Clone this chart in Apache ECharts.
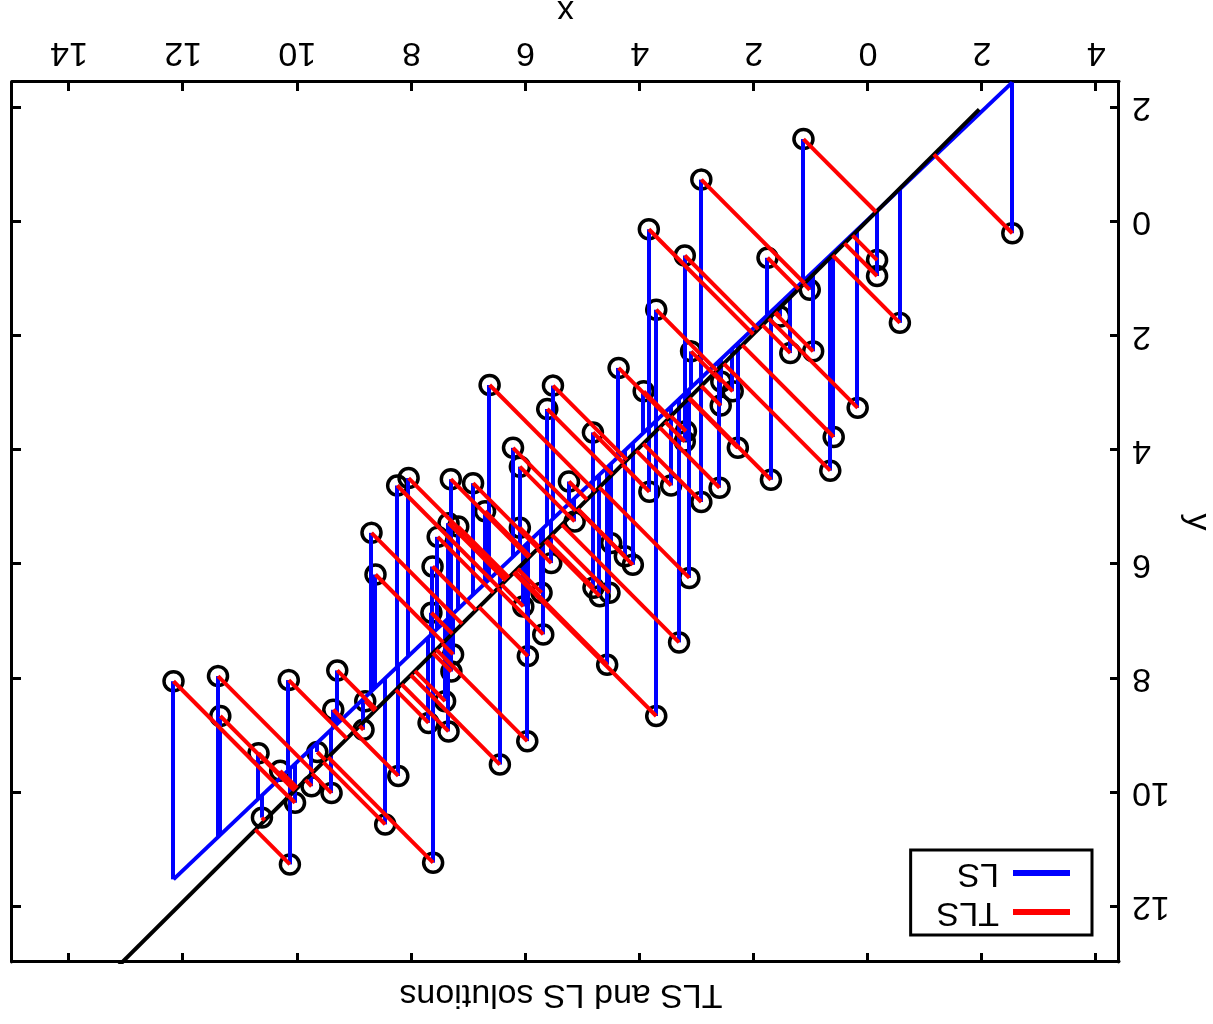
<!DOCTYPE html>
<html>
<head>
<meta charset="utf-8">
<title>TLS and LS solutions</title>
<script src="https://cdn.jsdelivr.net/npm/echarts@6/dist/echarts.min.js"></script>
<style>
  html, body { margin: 0; padding: 0; background: #ffffff; overflow: hidden; }
  #chart { width: 1213px; height: 1024px; transform: rotate(180deg); }
</style>
</head>
<body>
<div id="chart"></div>
<script>
// measured points (x, y)
var xs = [
  -2.53, 1.13, 2.92, 3.84, 3.21, 1.76, -0.16, -0.16, 1.02, 3.71,
  -0.56, 1.54, 6.63, 5.52, 5.62, 4.37, 3.93, 3.10, 1.36, 0.96,
  4.82, 6.22, 6.10, 2.57, 2.37, 2.58, 0.18, 0.60, 0.66, 3.19,
  3.21, 2.28, 1.70, 2.60, 2.92, 3.45, 3.83, 5.24, 6.92, 8.25,
  8.05, 7.31, 6.71, 8.70, 8.63, 7.35, 7.18, 7.54, 7.63, 6.10,
  5.14, 5.55, 4.50, 4.26, 4.12, 3.13, 4.70, 4.53, 5.72, 6.04,
  7.65, 5.69, 5.96, 3.31, 4.57, 3.71, 7.27, 7.30, 7.41, 7.70,
  7.35, 5.97, 12.17, 11.39, 10.15, 9.30, 11.35, 9.37, 8.81, 8.84,
  10.68, 9.65, 10.30, 8.23, 9.75, 9.40, 10.04, 10.62, 8.46, 6.45,
  10.13, 7.62, 4.81
];
var ys = [
  0.20, -1.45, -0.74, 0.13, 0.59, 0.63, 0.67, 0.95, 1.19, 1.54,
  1.77, 1.66, 2.86, 2.87, 3.28, 2.56, 2.97, 2.27, 2.30, 2.27,
  3.69, 3.96, 4.29, 2.80, 2.97, 3.22, 3.26, 3.77, 4.36, 3.67,
  3.85, 3.96, 4.52, 4.66, 4.91, 4.62, 4.73, 4.55, 4.58, 4.62,
  4.49, 4.51, 5.07, 5.45, 6.18, 5.28, 5.34, 5.52, 6.04, 5.36,
  5.25, 5.98, 5.63, 5.86, 6.01, 6.24, 6.56, 6.50, 6.50, 6.74,
  6.85, 7.23, 7.61, 7.37, 7.76, 8.66, 7.58, 7.88, 8.40, 8.78,
  8.93, 9.10, 8.05, 7.96, 8.03, 7.86, 8.66, 8.55, 8.40, 8.90,
  9.31, 9.29, 9.62, 9.71, 9.89, 10.01, 10.18, 10.44, 10.56, 9.51,
  11.26, 11.23, 6.41
];
var xTicks = [-4, -2, 0, 2, 4, 6, 8, 10, 12, 14];
var yTicks = [-2, 0, 2, 4, 6, 8, 10, 12];
var xLimits = [-4.4, 15];
var yLimits = [-2.45, 12.97];

// fitted lines: [slope, intercept]
var lsFit = [0.95, -0.04];
var tlsFit = [0.995, -0.03];
var tlsSpan = [-1.95, 14];

var FONT = "Liberation Sans, Arial, Helvetica, sans-serif";

function lsAt(x) {
  return lsFit[0] * x + lsFit[1];
}

function tlsAt(x) {
  return tlsFit[0] * x + tlsFit[1];
}

var points = xs.map(function (x, i) { return [x, ys[i]]; });

// vertical residuals down/up to the LS line
var lsSegments = xs.map(function (x, i) {
  return { coords: [[x, ys[i]], [x, lsAt(x)]] };
});

var xLo = Math.min.apply(null, xs);
var xHi = Math.max.apply(null, xs);
var lsLine = [[xLo, lsAt(xLo)], [xHi, lsAt(xHi)]];

var tlsLine = tlsSpan.map(function (x) { return [x, tlsAt(x)]; });

// orthogonal projections onto the TLS line
var tlsSegments = xs.map(function (x, i) {
  var a = tlsFit[0], b = tlsFit[1];
  var xp = (x + a * (ys[i] - b)) / (1 + a * a);
  return { coords: [[x, ys[i]], [xp, tlsAt(xp)]] };
});

function tickLabel(v) {
  return String(Math.abs(v));
}

function makeAxis(pos, limits, ticks, showLabel, extra) {
  var axis = {
    type: "value",
    position: pos,
    min: limits[0],
    max: limits[1],
    axisLine: { show: true, onZero: false, lineStyle: { color: "#000", width: 3 } },
    axisTick: { show: true, inside: true, length: 9, customValues: ticks, lineStyle: { color: "#000", width: 3 } },
    axisLabel: {
      show: showLabel,
      customValues: ticks,
      margin: 13,
      color: "#000",
      fontSize: 34,
      fontFamily: FONT,
      formatter: tickLabel
    },
    splitLine: { show: false }
  };
  return Object.assign(axis, extra || {});
}

var chart = echarts.init(document.getElementById("chart"), null, { renderer: "canvas" });

chart.setOption({
  animation: false,
  backgroundColor: "#ffffff",
  textStyle: { fontFamily: FONT },
  title: {
    text: "TLS and LS solutions",
    left: 647,
    textAlign: "center",
    top: 8,
    textStyle: { color: "#000", fontSize: 34, fontWeight: "normal", fontFamily: FONT }
  },
  legend: {
    orient: "vertical",
    left: 121,
    top: 89,
    data: ["TLS", "LS"],
    icon: "rect",
    itemWidth: 55,
    itemHeight: 4,
    itemGap: 5,
    padding: [6, 26, 6, 22],
    borderColor: "#000",
    borderWidth: 3,
    textStyle: { color: "#000", fontSize: 34, fontFamily: FONT, padding: [0, 0, 0, 10] }
  },
  grid: { left: 94, right: 12, top: 62, bottom: 82, outerBoundsMode: "none" },
  xAxis: [
    makeAxis("bottom", xLimits, xTicks, true, {
      name: "x",
      nameLocation: "middle",
      nameGap: 55,
      nameTextStyle: { color: "#000", fontSize: 34, fontFamily: FONT }
    }),
    makeAxis("top", xLimits, xTicks, false)
  ],
  yAxis: [
    makeAxis("left", yLimits, yTicks, true, {
      name: "y",
      nameLocation: "middle",
      nameGap: 57,
      nameTextStyle: { color: "#000", fontSize: 34, fontFamily: FONT }
    }),
    makeAxis("right", yLimits, yTicks, false)
  ],
  series: [
    {
      name: "data",
      type: "scatter",
      data: points,
      symbol: "circle",
      symbolSize: 19,
      z: 1,
      itemStyle: { color: "rgba(0,0,0,0)", borderColor: "#000", borderWidth: 3.5, opacity: 1 }
    },
    {
      name: "LS",
      type: "lines",
      coordinateSystem: "cartesian2d",
      data: lsSegments,
      z: 2,
      color: "#0000ff",
      itemStyle: { color: "#0000ff" },
      lineStyle: { color: "#0000ff", width: 4, opacity: 1 }
    },
    {
      name: "LS",
      type: "line",
      data: lsLine,
      showSymbol: false,
      z: 3,
      color: "#0000ff",
      lineStyle: { color: "#0000ff", width: 4 }
    },
    {
      name: "TLS line",
      type: "line",
      data: tlsLine,
      showSymbol: false,
      z: 4,
      lineStyle: { color: "#000", width: 4 }
    },
    {
      name: "TLS",
      type: "lines",
      coordinateSystem: "cartesian2d",
      data: tlsSegments,
      z: 5,
      color: "#ff0000",
      itemStyle: { color: "#ff0000" },
      lineStyle: { color: "#ff0000", width: 4, opacity: 1 }
    }
  ]
});
</script>
</body>
</html>
